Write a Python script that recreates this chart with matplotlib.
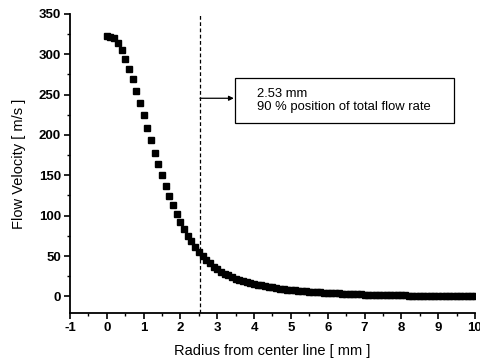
import matplotlib
matplotlib.use("Agg")
import matplotlib.pyplot as plt
import numpy as np
from matplotlib.patches import Rectangle
from matplotlib.ticker import MultipleLocator

plt.rcParams["font.family"] = ["Liberation Sans", "DejaVu Sans"]
plt.rcParams["axes.unicode_minus"] = False

# radius from center line [mm], step 0.1
radius = np.round(np.arange(0, 101) * 0.1, 1)
velocity = [
    323, 322, 320, 314, 305, 294, 282, 269, 255, 240,
    225, 209, 194, 178, 164, 150, 137, 124, 113, 102,
    92, 83, 75, 68, 61, 55, 50, 45, 41, 37,
    33.5, 30.5, 28, 26, 24, 22, 20.5, 19, 17.5, 16.5,
    15.5, 14.5, 13.5, 12.5, 12, 11, 10.3, 9.6, 9, 8.5,
    8, 7.5, 7, 6.6, 6.3, 6, 5.6, 5.3, 5, 4.7,
    4.4, 4.1, 3.9, 3.6, 3.4, 3.2, 3.0, 2.8, 2.6, 2.4,
    2.2, 2.1, 2.0, 1.9, 1.8, 1.7, 1.6, 1.5, 1.4, 1.3,
    1.2, 1.1, 1.0, 0.9, 0.9, 0.8, 0.7, 0.7, 0.6, 0.6,
    0.5, 0.5, 0.4, 0.4, 0.4, 0.3, 0.3, 0.3, 0.2, 0.2,
    0.2,
]
pos_90 = 2.53
note_lines = ["2.53 mm", "90 % position of total flow rate"]

fig = plt.figure(figsize=(4.81, 3.62), dpi=100)
ax = fig.add_axes([0.1455, 0.1345, 0.842, 0.827])

ax.plot(radius, velocity, "s", color="black", markersize=4.6, zorder=3)
ax.axvline(pos_90, color="black", linestyle=(0, (3, 2)), linewidth=0.9)

ax.set_xlim(-1, 10)
ax.set_ylim(-21, 350)
ax.xaxis.set_major_locator(MultipleLocator(1))
ax.xaxis.set_minor_locator(MultipleLocator(0.5))
ax.yaxis.set_major_locator(MultipleLocator(50))
ax.yaxis.set_minor_locator(MultipleLocator(25))

for side in ["top", "right"]:
    ax.spines[side].set_visible(False)
for side in ["left", "bottom"]:
    ax.spines[side].set_linewidth(1.3)

ax.tick_params(which="major", direction="out", length=4.5, width=1.2,
               labelsize=9.5, pad=2)
ax.tick_params(which="minor", direction="out", length=2.5, width=1.0)
for lab in ax.get_xticklabels() + ax.get_yticklabels():
    lab.set_fontweight("bold")

ax.set_xlabel("Radius from center line [ mm ]", fontsize=10.5, labelpad=7)
ax.set_ylabel("Flow Velocity [ m/s ]", fontsize=10.5, labelpad=9)

# annotation box + arrow from the 90 % line
ax.add_patch(Rectangle((3.49, 215), 5.95, 56, facecolor="white",
                       edgecolor="black", linewidth=0.9, zorder=4))
ax.annotate("", xy=(3.45, 245.5), xytext=(pos_90, 245.5),
            arrowprops=dict(arrowstyle="-|>", color="black", lw=0.9,
                            mutation_scale=7, shrinkA=0, shrinkB=0))
ax.text(4.07, 243, "\n".join(note_lines), fontsize=9.4, va="center",
        ha="left", linespacing=1.15, zorder=5)

fig.savefig("out.png", dpi=100)
